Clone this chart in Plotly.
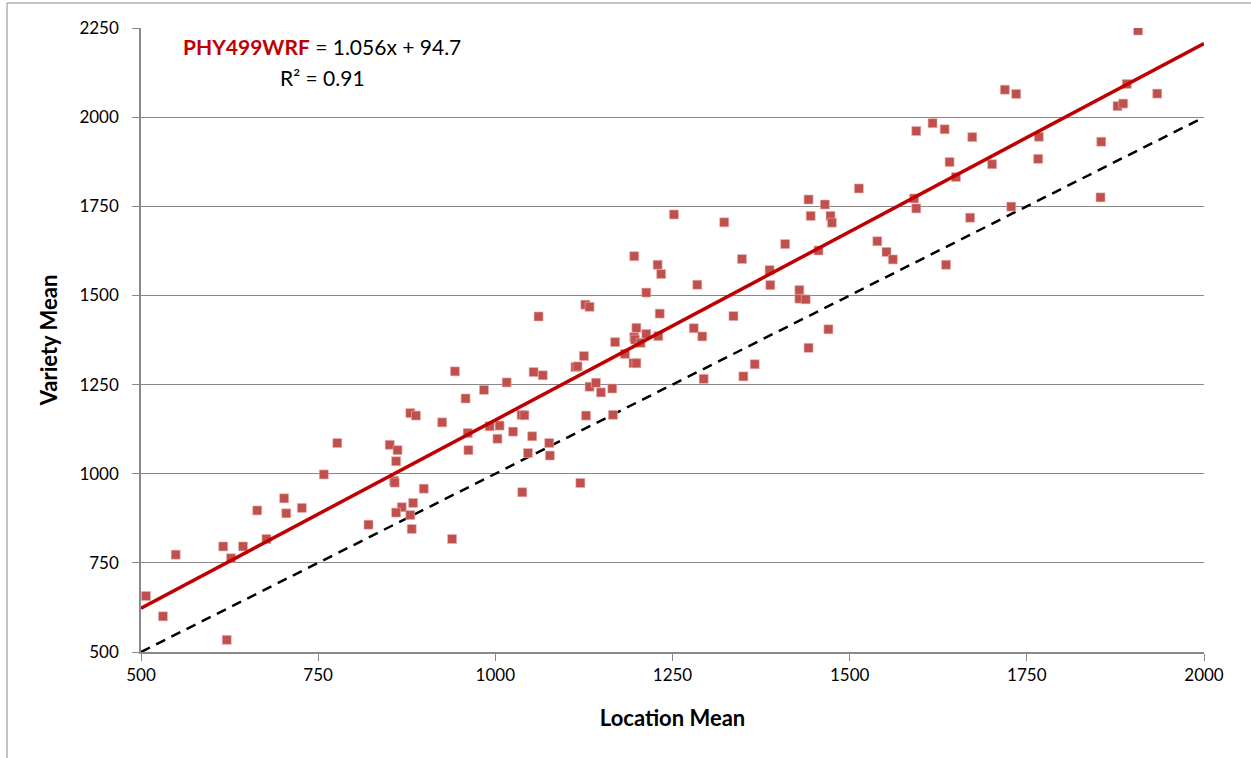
import plotly.graph_objects as go

# Location Mean (x) and Variety Mean (y)
loc_mean = [
    943, 958, 984, 880, 888, 925, 961, 962, 851, 862, 860, 857, 858, 777, 758, 899, 884, 868, 860, 880,
    882, 821, 939, 702, 727, 664, 705, 677, 616, 644, 627, 549, 507, 531, 621,
    1252, 1323,
    1196, 1229, 1234, 1213, 1061, 1127, 1133, 1232, 1285, 1348, 1409, 1456, 1387, 1388, 1429, 1429, 1438,
    1470, 1442, 1336, 1280, 1292, 1366, 1350, 1294, 1199, 1196, 1197, 1213, 1205, 1230, 1169, 1183, 1195,
    1199, 1125, 1113, 1116, 1054, 1067, 1016, 1133, 1142, 1149, 1165, 992, 1006, 1037, 1041, 1003, 1025,
    1052, 1076, 1046, 1077, 1128, 1166, 1120, 1038,
    1907, 1934, 1891, 1878, 1886, 1855, 1854, 1719, 1735, 1767, 1766, 1728, 1701, 1673, 1670, 1650, 1641,
    1634, 1617, 1594, 1636, 1591, 1594, 1513, 1442, 1465, 1445, 1473, 1475, 1539, 1552, 1561,
]
var_mean = [
    1287, 1211, 1235, 1170, 1163, 1144, 1114, 1066, 1081, 1066, 1035, 980, 975, 1086, 998, 958, 918, 906, 891, 884,
    845, 857, 817, 931, 904, 897, 889, 817, 796, 796, 763, 773, 657, 600, 534,
    1727, 1705,
    1610, 1586, 1560, 1508, 1441, 1474, 1468, 1449, 1530, 1602, 1644, 1626, 1571, 1529, 1515, 1491, 1489,
    1405, 1353, 1442, 1408, 1385, 1307, 1273, 1266, 1409, 1383, 1376, 1392, 1367, 1386, 1369, 1336, 1310,
    1310, 1330, 1299, 1301, 1285, 1276, 1256, 1244, 1255, 1228, 1239, 1133, 1135, 1165, 1164, 1098, 1118,
    1105, 1086, 1058, 1051, 1163, 1165, 974, 948,
    2243, 2066, 2093, 2031, 2038, 1931, 1775, 2077, 2065, 1945, 1883, 1749, 1868, 1944, 1718, 1832, 1874,
    1966, 1983, 1961, 1586, 1772, 1744, 1800, 1769, 1755, 1723, 1723, 1704, 1652, 1622, 1601,
]

slope = 1.056
intercept = 94.7
r_squared = 0.91
x_range = [500, 2000]
y_range = [500, 2250]
tick_step = 250

fit_x = x_range
fit_y = [slope * v + intercept for v in fit_x]

font_family = "Lato, 'Open Sans', sans-serif"
grid_col = "#888888"

fig = go.Figure()
fig.add_trace(go.Scatter(
    x=fit_x, y=x_range, mode="lines",
    line=dict(color="black", width=2.5, dash="10px,7px"),
    showlegend=False, hoverinfo="skip",
))
fig.add_trace(go.Scatter(
    x=loc_mean, y=var_mean, mode="markers",
    marker=dict(symbol="square", size=9, color="#C0504D", line=dict(width=0.6, color="#E8B0AE")),
    showlegend=False,
))
fig.add_trace(go.Scatter(
    x=fit_x, y=fit_y, mode="lines",
    line=dict(color="#C00000", width=3.5),
    showlegend=False, hoverinfo="skip",
))

fig.update_layout(
    width=1251, height=758,
    margin=dict(l=141, r=47, t=28, b=106),
    paper_bgcolor="white", plot_bgcolor="white",
    font=dict(family=font_family, size=17, color="black"),
    xaxis=dict(
        range=x_range, tick0=500, dtick=tick_step, showgrid=False,
        showline=True, linecolor=grid_col, linewidth=1.5,
        ticks="outside", ticklen=7, tickcolor=grid_col, tickwidth=1,
        tickfont=dict(size=17), zeroline=False,
        title=dict(text="<b>Location Mean</b>", font=dict(size=22), standoff=26),
    ),
    yaxis=dict(
        range=y_range, tick0=500, dtick=tick_step, showgrid=True,
        gridcolor=grid_col, gridwidth=1,
        showline=True, linecolor=grid_col, linewidth=1.5,
        ticks="outside", ticklen=7, tickcolor=grid_col, tickwidth=1,
        tickfont=dict(size=17), zeroline=False, ticklabelstandoff=10,
        title=dict(text="<b>Variety Mean</b>", font=dict(size=22), standoff=16),
    ),
    annotations=[
        dict(
            xref="paper", yref="paper", x=(322 - 141) / 1063, y=(652 - 46) / 624,
            text=f"<span style='color:#C00000'><b>PHY499WRF</b></span> = {slope:.3f}x + {intercept}",
            showarrow=False, font=dict(size=21, color="black"), xanchor="center", yanchor="middle",
        ),
        dict(
            xref="paper", yref="paper", x=(322 - 141) / 1063, y=(652 - 77) / 624,
            text=f"R² = {r_squared:.2f}",
            showarrow=False, font=dict(size=21, color="black"), xanchor="center", yanchor="middle",
        ),
    ],
    shapes=[
        dict(type="rect", xref="paper", yref="paper",
             x0=(7 - 141) / 1063, x1=(1270 - 141) / 1063,
             y0=(652 - 780) / 624, y1=(652 - 3) / 624,
             line=dict(color=grid_col, width=1), fillcolor="rgba(0,0,0,0)", layer="below"),
    ],
)

fig.write_html("out.html")
